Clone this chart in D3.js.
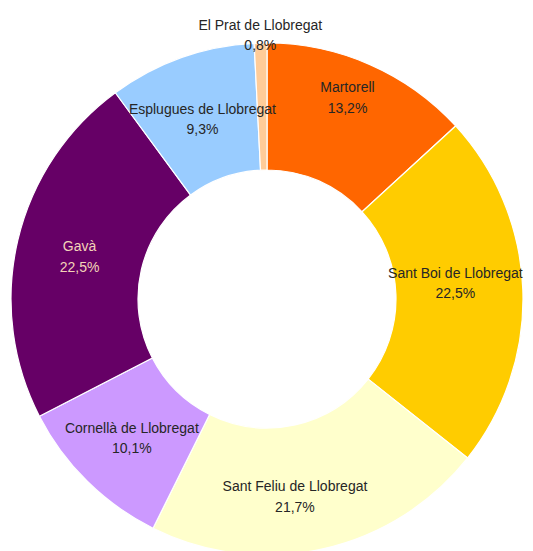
<!DOCTYPE html>
<html>
<head>
<meta charset="utf-8">
<script src="https://cdn.jsdelivr.net/npm/d3@7"></script>
<style>
  body { margin: 0; background: #fff; }
  svg { display: block; }
</style>
</head>
<body>
<svg width="533" height="551"></svg>
<script>
var names = ["Martorell", "Sant Boi de Llobregat", "Sant Feliu de Llobregat",
  "Cornellà de Llobregat", "Gavà", "Esplugues de Llobregat", "El Prat de Llobregat"];
var shares = [13.2, 22.5, 21.7, 10.1, 22.5, 9.3, 0.8];
var colors = ["#ff6600", "#ffcc00", "#ffffcc", "#cc99ff", "#660066", "#99ccff", "#ffcc99"];

var svg = d3.select("svg");
var cx = 267, cy = 299;
var outerR = 256, innerR = 129;

var data = names.map(function (n, i) {
  return { name: n, value: shares[i], color: colors[i] };
});

var pie = d3.pie().sort(null).value(function (d) { return d.value; });
var arc = d3.arc().innerRadius(innerR).outerRadius(outerR);
var labelArc = d3.arc().innerRadius((innerR + outerR) / 2).outerRadius((innerR + outerR) / 2);
var outsideArc = d3.arc().innerRadius(outerR + 10).outerRadius(outerR + 10);

var g = svg.append("g").attr("transform", "translate(" + cx + "," + cy + ")");
var arcs = pie(data);

g.selectAll("path.slice")
  .data(arcs)
  .enter()
  .append("path")
  .attr("class", "slice")
  .attr("d", arc)
  .style("fill", function (d) { return d.data.color; })
  .style("stroke", "#fff")
  .style("stroke-width", 1.2);

// small manual nudges, like dragged labels in the original
var nudge = {
  "Martorell": [3, -27],
  "Sant Boi de Llobregat": [-4, -11],
  "Sant Feliu de Llobregat": [-14, 8]
};

var fmt = function (v) { return d3.format(".1f")(v).replace(".", ",") + "%"; };

var labels = g.selectAll("text.lbl")
  .data(arcs)
  .enter()
  .append("text")
  .attr("class", "lbl")
  .attr("transform", function (d) {
    var small = d.data.value < 2;
    var c = small ? outsideArc.centroid(d) : labelArc.centroid(d);
    var n = nudge[d.data.name] || [0, 0];
    return "translate(" + (c[0] + n[0]) + "," + (c[1] + n[1]) + ")";
  })
  .attr("text-anchor", "middle")
  .style("font-family", "'Liberation Sans', Arial, sans-serif")
  .style("font-size", "14px")
  .style("fill", function (d) { return d.data.name === "Gavà" ? "#f3d3b8" : "#262626"; });

labels.append("tspan")
  .attr("x", 0)
  .attr("dy", "-0.25em")
  .text(function (d) { return d.data.name; });

labels.append("tspan")
  .attr("x", 0)
  .attr("dy", "1.45em")
  .text(function (d) { return fmt(d.data.value); });
</script>
</body>
</html>
